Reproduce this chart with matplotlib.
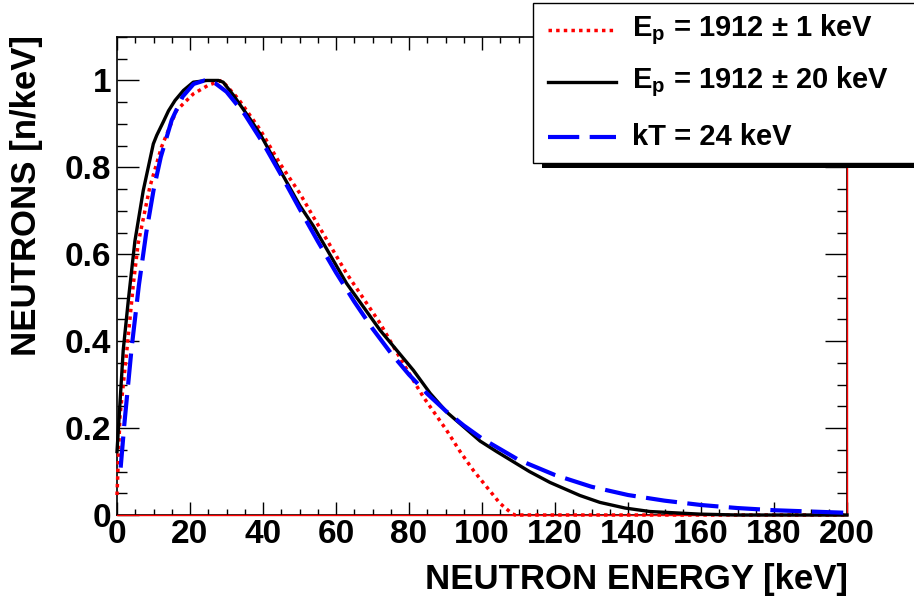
import numpy as np
import matplotlib
matplotlib.use('Agg')
import matplotlib.pyplot as plt
from matplotlib.patches import Rectangle
from matplotlib.lines import Line2D
from matplotlib.ticker import MultipleLocator, FuncFormatter

plt.rcParams['font.family'] = ['Liberation Sans', 'DejaVu Sans']
plt.rcParams['font.weight'] = 'bold'
plt.rcParams['mathtext.fontset'] = 'custom'
plt.rcParams['mathtext.rm'] = 'Liberation Sans:bold'
plt.rcParams['mathtext.bf'] = 'Liberation Sans:bold'

# E_p = 1912 +- 1 keV (red, dotted)
e_red = [0, 0.8, 2.7, 4.5, 5.8, 9.0, 12.2, 16.3, 20.9, 25, 28.7, 33.2, 39.2, 44.7,
         50.1, 53.8, 62.9, 72.1, 77.5, 82.1, 83.9, 90.3, 94, 97.6, 104.9, 108.1, 109, 200]
n_red = [0.046, 0.226, 0.379, 0.533, 0.625, 0.755, 0.847, 0.931, 0.969, 0.989, 1.0, 0.958, 0.887, 0.808,
         0.74, 0.686, 0.556, 0.441, 0.362, 0.297, 0.272, 0.195, 0.146, 0.103, 0.027, 0.004, 0.0, 0.0]

# E_p = 1912 +- 20 keV (black, solid)
e_blk = [0, 1.7, 3.1, 4.9, 7.2, 9.95, 10.9, 12.7, 14.1, 15.9, 18.2, 20.9, 24.6, 27.8, 29.1,
         31.9, 36.4, 39.2, 44.7, 50.1, 53.8, 62.9, 72.1, 81.2, 85.8, 90.3, 99.5, 104, 113,
         118.6, 126.8, 132.3, 139.2, 146, 159.7, 170, 200]
n_blk = [0.146, 0.379, 0.494, 0.63, 0.747, 0.854, 0.874, 0.905, 0.93, 0.954, 0.977, 0.996, 1.0, 1.0, 0.996,
         0.966, 0.912, 0.877, 0.793, 0.712, 0.665, 0.533, 0.425, 0.333, 0.28, 0.237, 0.17, 0.146, 0.1,
         0.075, 0.045, 0.029, 0.016, 0.008, 0.002, 0.0, 0.0]

# kT = 24 keV (blue, dashed)
e_blu = [1, 2, 4, 6, 8, 10, 12, 15, 18, 21, 24, 27, 30, 35, 40, 45, 50, 55, 60, 65, 70, 75, 80,
         85, 90, 95, 100, 110, 120, 130, 140, 150, 160, 170, 180, 190, 200]
n_blu = [0.109, 0.208, 0.384, 0.529, 0.649, 0.747, 0.824, 0.909, 0.963, 0.992, 1.0, 0.993, 0.974,
         0.922, 0.856, 0.782, 0.705, 0.630, 0.558, 0.491, 0.429, 0.373, 0.323, 0.279, 0.240, 0.206,
         0.176, 0.127, 0.092, 0.065, 0.046, 0.033, 0.023, 0.016, 0.011, 0.008, 0.005]

labels = [r'E$_{\mathrm{p}}$ = 1912 ± 1 keV', r'E$_{\mathrm{p}}$ = 1912 ± 20 keV', 'kT = 24 keV']

W, H = 914, 605
fig = plt.figure(figsize=(W / 100, H / 100), dpi=100)
ax = fig.add_axes([117 / W, 1 - 515 / H, 730 / W, 478 / H])

red_style = dict(color='red', lw=2.5, dashes=(1.0, 1.2), dash_capstyle='butt')
blk_style = dict(color='black', lw=2.4)
blu_style = dict(color='blue', lw=3.0, dashes=(7.5, 2.5), dash_capstyle='butt')

# thin red frame of the red histogram
ax.plot([0, 200], [0, 0], color='red', lw=1, zorder=4, clip_on=False)
ax.plot([200, 200], [0, 1.1], color='red', lw=1, zorder=4, clip_on=False)

ax.plot(e_red, n_red, zorder=5, clip_on=False, **red_style)
ax.plot(e_blk, n_blk, zorder=6, clip_on=False, **blk_style)
ax.plot(e_blu, n_blu, zorder=7, clip_on=False, **blu_style)

ax.set_xlim(0, 200)
ax.set_ylim(0, 1.1)
ax.xaxis.set_major_locator(MultipleLocator(20))
ax.xaxis.set_minor_locator(MultipleLocator(5))
ax.yaxis.set_major_locator(MultipleLocator(0.2))
ax.yaxis.set_minor_locator(MultipleLocator(0.05))
ax.yaxis.set_major_formatter(FuncFormatter(lambda v, p: '%g' % round(v, 2)))

ax.tick_params(which='both', direction='in', top=True, right=True, width=1)
ax.tick_params(axis='x', which='major', length=9.5, labelsize=24, pad=3)
ax.tick_params(axis='x', which='minor', length=4.5)
ax.tick_params(axis='y', which='major', length=16, labelsize=24, pad=4)
ax.tick_params(axis='y', which='minor', length=7)
for lab in ax.get_xticklabels() + ax.get_yticklabels():
    lab.set_fontweight('bold')
for sp in ax.spines.values():
    sp.set_linewidth(1.2)

fig.text(848 / W, 1 - 580 / H, 'NEUTRON ENERGY [keV]', ha='right', va='center',
         fontsize=25, fontweight='bold')
fig.text(27 / W, 1 - 35 / H, 'NEUTRONS [n/keV]', ha='center', va='top', rotation=90,
         fontsize=25, fontweight='bold')

# legend box with shadow, drawn in pixel positions
def fx(px):
    return px / W

def fy(py):
    return 1 - py / H

shadow = Rectangle((fx(542), fy(168)), fx(400), fy(8) - fy(168), transform=fig.transFigure,
                   facecolor='black', edgecolor='none', zorder=20)
box = Rectangle((fx(533), fy(163)), fx(400), fy(3) - fy(163), transform=fig.transFigure,
                facecolor='white', edgecolor='black', lw=1, zorder=21)
fig.add_artist(shadow)
fig.add_artist(box)

rows = [30, 82, 137]
styles = [red_style, blk_style, blu_style]
for row, st, lab in zip(rows, styles, labels):
    fig.add_artist(Line2D([fx(548), fx(616)], [fy(row), fy(row)], transform=fig.transFigure,
                          zorder=22, **st))
    fig.text(fx(632), fy(row), lab, ha='left', va='center', fontsize=21, fontweight='bold',
             zorder=23)

fig.savefig('out.png', dpi=100)
